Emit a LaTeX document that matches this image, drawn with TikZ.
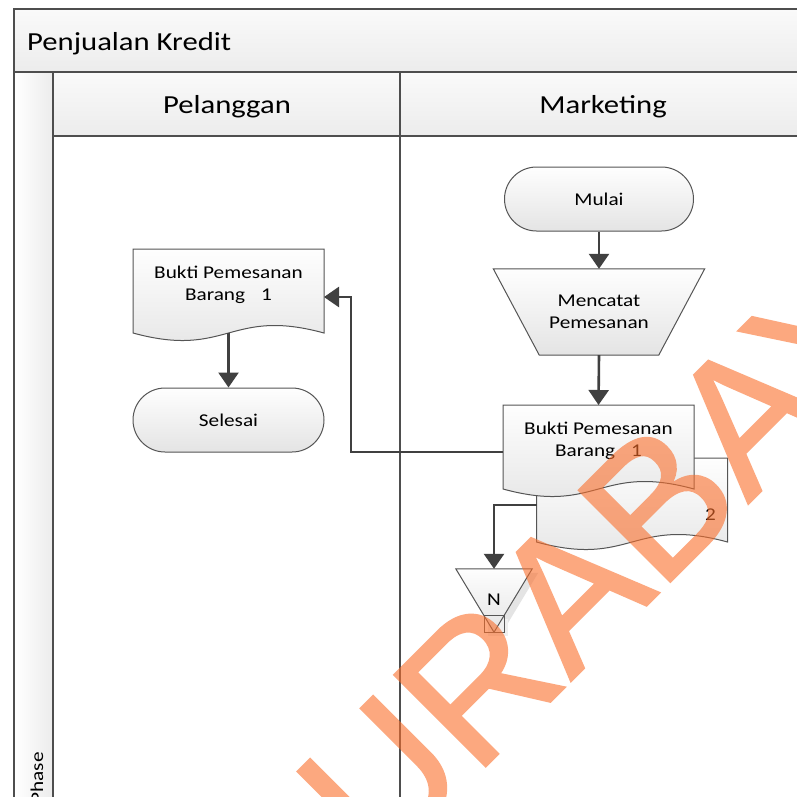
\documentclass[tikz,border=0pt]{standalone}
\usepackage{fontspec}
\setmainfont{Carlito}[FakeStretch=1.18]
\newfontfamily\wmfont{Liberation Sans}[FakeBold=1.2]
\usetikzlibrary{arrows.meta,shapes.misc,calc}

\definecolor{frameline}{RGB}{78,78,78}
\definecolor{conn}{RGB}{64,64,64}
\definecolor{outline}{RGB}{85,85,85}
\definecolor{hdrtop}{RGB}{250,250,250}
\definecolor{hdrbot}{RGB}{236,236,236}
\definecolor{shapetop}{RGB}{254,254,254}
\definecolor{shapebot}{RGB}{228,228,228}
\definecolor{wmark}{RGB}{250,110,43}
\definecolor{shadowgray}{RGB}{228,228,228}

\newcommand\shapefont{\fontsize{18}{21.5}\selectfont}
\newcommand\headfont{\fontsize{26}{31}\selectfont}

% outline of a document symbol with a wavy lower edge, drawn round a named box
\newcommand\docoutline[1]{%
  \path[shapefill] (#1.north west) -- (#1.north east) -- (#1.south east)
    .. controls +(-95,26) and +(95,-26) .. (#1.south west) -- cycle;}

\tikzset{
  lane/.style={draw=frameline, line width=2pt, line cap=rect},
  shapefill/.style={top color=shapetop, bottom color=shapebot, draw=outline, line width=1pt},
  terminal/.style={rounded rectangle, shapefill, minimum height=64pt, inner sep=0pt, font=\shapefont},
  docbox/.style={minimum width=191pt, minimum height=84pt, inner sep=0pt, outer sep=0pt},
  txt/.style={font=\shapefont, align=center, inner sep=0pt},
  head/.style={font=\headfont, inner sep=0pt},
  flow/.style={draw=conn, line width=2.6pt, -{Triangle[length=15pt,width=20pt]}},
}

\begin{document}
\begin{tikzpicture}[x=1pt,y=1pt]
\useasboundingbox (0,0) rectangle (797,-796);
\fill[white] (0,0) rectangle (797,-796);

% pool: title bar, phase strip, lane headers
\shade[top color=hdrtop, bottom color=hdrbot] (14,-9) rectangle (797,-72);
\shade[left color=white, right color=hdrbot] (14,-72) rectangle (53,-796);
\shade[top color=hdrtop, bottom color=hdrbot] (53,-72) rectangle (797,-136);
\draw[lane] (14,-796) -- (14,-9) -- (797,-9);
\draw[lane] (14,-72) -- (797,-72);
\draw[lane] (53,-72) -- (53,-796);
\draw[lane] (53,-136) -- (797,-136);
\draw[lane] (400,-72) -- (400,-796);

\node[head, anchor=base west] (title) at (27,-50) {Penjualan Kredit};
\node[head, anchor=base] (lanecust) at (227,-113) {Pelanggan};
\node[head, anchor=base] (lanemkt) at (603,-113) {Marketing};
\node[txt, anchor=base east, rotate=90] (phase) at (43,-752) {Phase};

% Marketing lane
\node[terminal, minimum width=189pt] (mulai) at (599,-199) {Mulai};

\node[minimum width=119pt, minimum height=86pt, inner sep=0pt] (catat) at (599,-312) {};
\path[shapefill] ($(catat.north west)+(-46,0)$) -- ($(catat.north east)+(46,0)$)
  -- (catat.south east) -- (catat.south west) -- cycle;
\node[txt] (catattxt) at (catat.center) {Mencatat\\Pemesanan};

\node[docbox] (docb) at (632,-500) {};
\docoutline{docb}
\node[txt, anchor=east] (docbtxt) at ($(docb.center)+(84,-15)$) {2};

\node[docbox] (doca) at (598.5,-447) {};
\docoutline{doca}
\node[txt] (docatxt) at ($(doca.center)+(0,6)$) {Bukti Pemesanan\\Barang\hspace{16pt}1};

% off-page connector
\node[minimum width=76pt, minimum height=63pt, inner sep=0pt] (offpg) at (494,-600.5) {};
\fill[shadowgray] ($(offpg.north west)+(6,-4)$) -- ($(offpg.north east)+(6,-4)$)
  -- ($(offpg.south)+(6,-4)$) -- cycle;
\fill[shadowgray!60] ($(offpg.south)+(-6,-4)$) rectangle ($(offpg.south)+(14,13)$);
\path[shapefill] (offpg.north west) -- (offpg.north east) -- (offpg.south) -- cycle;
\draw[outline, line width=0.8pt] ($(offpg.south)+(-10,0)$) rectangle ($(offpg.south)+(10,17)$);
\node[txt] (offpgtxt) at (494,-600) {N};

% Pelanggan lane
\node[docbox] (cust) at (228.5,-291) {};
\docoutline{cust}
\node[txt] (custtxt) at ($(cust.center)+(0,6)$) {Bukti Pemesanan\\Barang\hspace{16pt}1};

\node[terminal, minimum width=191pt] (selesai) at (228.5,-420) {Selesai};

% connectors
\coordinate (bend) at (351,-297);
\draw[flow] (mulai.south) -- (catat.north);
\draw[flow] (catat.south) -- (doca.north);
\draw[flow] (cust.south) -- (selesai.north);
\draw[flow] ([yshift=-5pt]doca.west) -| (bend) -- ([yshift=-6pt]cust.east);
\draw[flow] ([yshift=-5pt]docb.west) -| (offpg.north);

% watermark, composited as one translucent layer
\begin{scope}[transparency group, opacity=0.6]
  \clip (0,0) rectangle (797,-796);
  \node[rotate=45, anchor=base west, inner sep=0pt, text=wmark,
        font=\wmfont\fontsize{188}{188}\selectfont] (wm) at (290,-962) {SURABAYA};
\end{scope}
\end{tikzpicture}
\end{document}
